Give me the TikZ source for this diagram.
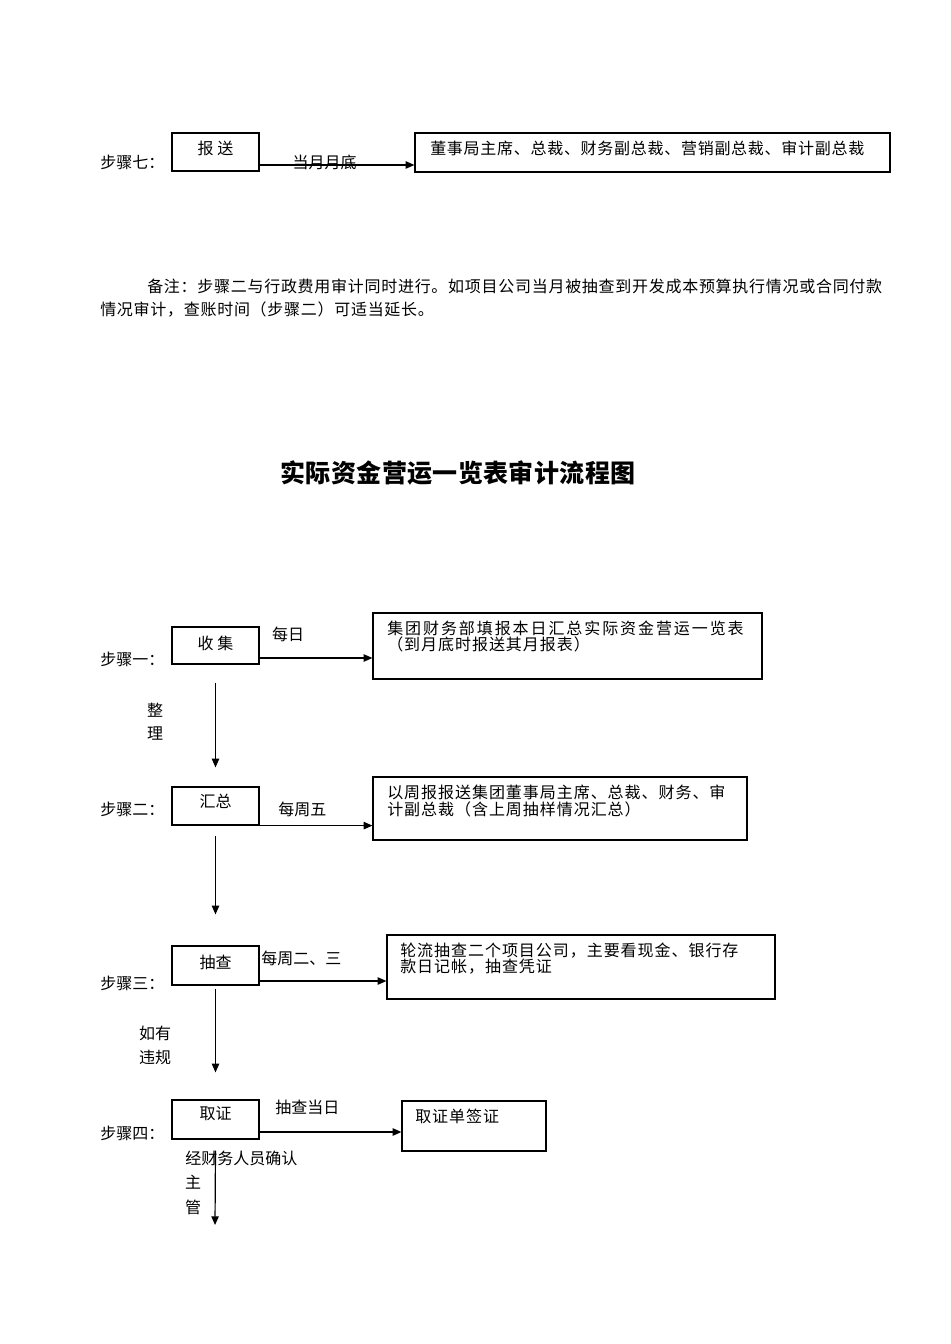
\documentclass[tikz,border=0pt]{standalone}
\usepackage{fontspec}
\setmainfont{Noto Sans CJK SC}
\newfontfamily\cjkA[LetterSpace=6]{Noto Sans CJK SC}
\newfontfamily\cjkR[LetterSpace=4.5]{Noto Sans CJK SC}
\newfontfamily\cjkB[LetterSpace=12]{Noto Sans CJK SC}
\newfontfamily\cjkT[LetterSpace=1.5]{Noto Sans CJK SC}
\usetikzlibrary{arrows.meta}
\begin{document}
\begin{tikzpicture}[x=0.75pt,y=-0.75pt,
  every node/.style={inner sep=0pt, font=\fontsize{12pt}{16pt}\selectfont},
  stepbox/.style={draw, line width=0.9pt, minimum width=65.25pt},
  infobox/.style={draw, line width=0.9pt},
  txt/.style={anchor=west},
  boxtxt/.style={anchor=west, font=\fontsize{12pt}{16pt}\cjkA},
  arr/.style={line width=0.9pt, -{Triangle[length=6.5pt,width=5.5pt]}}
]
\useasboundingbox (0,0) rectangle (950,1344);

% ---------- step 7 ----------
\node[stepbox, minimum height=28.5pt] (k7) at (215.5,152) {};
\node (k7t) at (215.5,148) {报 送};
\node[infobox, minimum width=356.25pt, minimum height=29.25pt] (r7) at (652.5,152.5) {};
\node[anchor=west, font=\fontsize{12pt}{16pt}\cjkR] (r7t) at (430,148) {董事局主席、总裁、财务副总裁、营销副总裁、审计副总裁};
\node[txt] (s7) at (100,162) {步骤七：};
\draw[arr] (k7.east |- 0,165) -- (r7.west |- 0,165);
\node (l7) at (324.5,162) {当月月底};

% ---------- remark ----------
\node[txt, font=\fontsize{12pt}{16pt}\cjkR] (rem1) at (147,286) {备注：步骤二与行政费用审计同时进行。如项目公司当月被抽查到开发成本预算执行情况或合同付款};
\node[txt, font=\fontsize{12pt}{16pt}\cjkR] (rem2) at (100,310) {情况审计，查账时间（步骤二）可适当延长。};

% ---------- title ----------
\node[font=\fontsize{18.75pt}{24pt}\cjkT\bfseries] (title) at (458,473) {实际资金营运一览表审计流程图};

% ---------- step 1 ----------
\node[stepbox, minimum height=27.75pt] (k1) at (215.5,645.5) {};
\node (k1t) at (215.5,643) {收 集};
\node[infobox, minimum width=291.75pt, minimum height=49.5pt] (r1) at (567.5,646) {};
\node[anchor=west, font=\fontsize{12pt}{16pt}\cjkB] (r1a) at (387,628) {集团财务部填报本日汇总实际资金营运一览表};
\node[anchor=west, font=\fontsize{12pt}{16pt}\cjkA] (r1b) at (387,644) {（到月底时报送其月报表）};
\node[txt] (s1) at (100,659) {步骤一：};
\node (l1) at (288,634) {每日};
\draw[arr] (k1.east |- 0,658) -- (r1.west |- 0,658);
\node (v1a) at (155,710) {整};
\node (v1b) at (155,734) {理};

% ---------- step 2 ----------
\node[stepbox, minimum height=28.5pt] (k2) at (215.5,806) {};
\node (k2t) at (215.5,801) {汇总};
\node[infobox, minimum width=280.5pt, minimum height=47.25pt] (r2) at (560,808.5) {};
\node[boxtxt] (r2a) at (387,792) {以周报报送集团董事局主席、总裁、财务、审};
\node[boxtxt] (r2b) at (387,809) {计副总裁（含上周抽样情况汇总）};
\node[txt] (s2) at (100,809) {步骤二：};
\node[txt] (l2) at (278,809) {每周五};
\draw[arr] (k2.south east) -- (r2.west |- k2.south east);
\draw[arr] ([yshift=-13.5pt]k1.south) -- ([yshift=14.25pt]k2.north);

% ---------- step 3 ----------
\node[stepbox, minimum height=29.25pt] (k3) at (215.5,965.5) {};
\node (k3t) at (215.5,962) {抽查};
\node[infobox, minimum width=291pt, minimum height=48pt] (r3) at (581,967) {};
\node[boxtxt] (r3a) at (400,951) {轮流抽查二个项目公司，主要看现金、银行存};
\node[boxtxt] (r3b) at (400,967) {款日记帐，抽查凭证};
\node[txt] (s3) at (100,983) {步骤三：};
\node[txt] (l3) at (261,958) {每周二、三};
\draw[arr] (k3.east |- 0,981) -- (r3.west |- 0,981);
\draw[arr] ([yshift=-7.5pt]k2.south) -- ([yshift=23.25pt]k3.north);
\node (v3a) at (155,1033) {如有};
\node (v3b) at (155,1057) {违规};

% ---------- step 4 ----------
\node[stepbox, minimum height=29.25pt] (k4) at (215.5,1119.5) {};
\node (k4t) at (215.5,1114) {取证};
\node[infobox, minimum width=108pt, minimum height=37.5pt] (r4) at (474,1126) {};
\node[boxtxt] (r4a) at (415,1116) {取证单签证};
\node[txt] (s4) at (100,1133) {步骤四：};
\node[txt] (l4) at (275,1107) {抽查当日};
\draw[arr] (k4.east |- 0,1132) -- (r4.west |- 0,1132);
\draw[arr] ([yshift=-2.25pt]k3.south) -- ([yshift=20.25pt]k4.north);

\node[txt] (v4a) at (185,1158) {经财务人员确认};
\node (v4b) at (193,1182) {主};
\node (v4c) at (193,1207) {管};
\coordinate (end4) at (215,1225);
\draw[arr] ([yshift=-8.25pt]k4.south) -- (end4);
\end{tikzpicture}
\end{document}
